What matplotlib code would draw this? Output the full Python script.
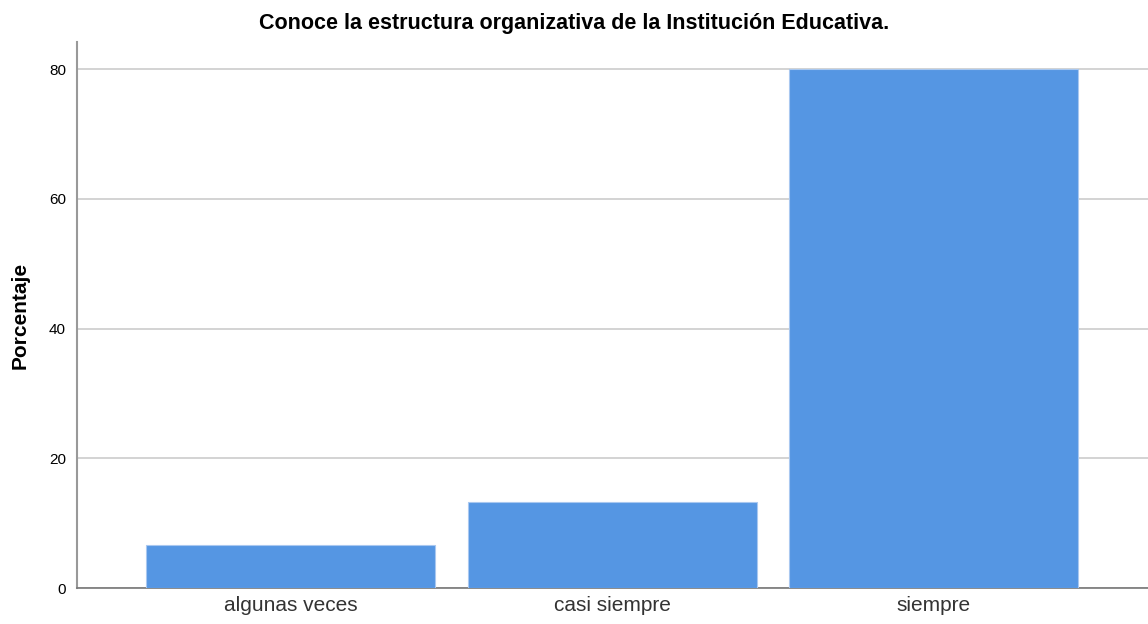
import matplotlib
matplotlib.use("Agg")
import matplotlib.pyplot as plt

categories = ["algunas veces", "casi siempre", "siempre"]
percentages = [6.67, 13.33, 80.0]
y_ticks = [0, 20, 40, 60, 80]

plt.rcParams['font.family'] = ['Liberation Sans', 'DejaVu Sans']

fig = plt.figure(figsize=(11.48, 6.24), dpi=100)
ax = fig.add_axes([77 / 1148, 1 - 588 / 624, 1 - 77 / 1148, (588 - 42) / 624])

x = list(range(len(categories)))
ax.bar(x, percentages, width=0.9, color="#5596e3", edgecolor="#a9c8f0", linewidth=0.8, zorder=3)

ax.set_xlim(-0.665, 2.667)
ax.set_ylim(0, 84.2)
ax.set_yticks(y_ticks)
ax.set_xticks(x)
ax.set_xticklabels(categories, fontsize=15, color="#333333")
ax.tick_params(axis="y", length=0, labelsize=11, pad=8)
ax.tick_params(axis="x", length=0, pad=6)
ax.yaxis.grid(True, color="#cccccc", linewidth=1.2, zorder=0)

for side in ["top", "right"]:
    ax.spines[side].set_visible(False)
ax.spines["left"].set_color("#999999")
ax.spines["left"].set_linewidth(1.5)
ax.spines["bottom"].set_color("#777777")
ax.spines["bottom"].set_linewidth(1.2)

ax.set_ylabel("Porcentaje", fontsize=15, fontweight="bold", labelpad=14)
fig.text(0.5, 1 - 24 / 624, "Conoce la estructura organizativa de la Institución Educativa.",
         ha="center", va="center", fontsize=15.5, fontweight="bold")

fig.savefig("out.png", dpi=100)
